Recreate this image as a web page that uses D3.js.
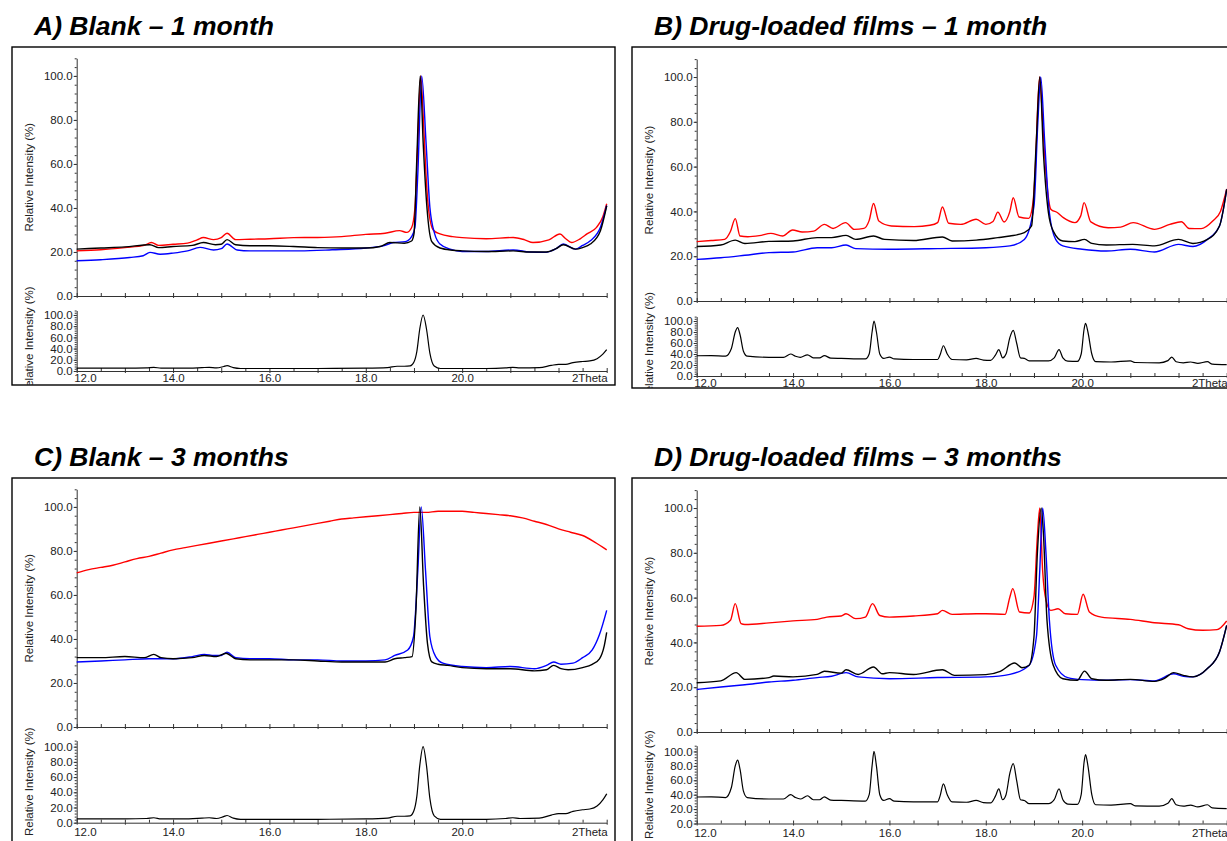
<!DOCTYPE html>
<html><head><meta charset="utf-8">
<script src="https://cdn.jsdelivr.net/npm/d3@7/dist/d3.min.js"></script>
<style>body{margin:0;background:#fff}svg{display:block}</style>
</head><body>
<svg id="chart" width="1227" height="841"></svg>
<script>
// ---------- text / ticks ----------
const panelTitles = ["A) Blank \u2013 1 month", "B) Drug-loaded films \u2013 1 month", "C) Blank \u2013 3 months", "D) Drug-loaded films \u2013 3 months"];
const xTickValues = [12, 14, 16, 18, 20];
const xTickLabels = ["12.0", "14.0", "16.0", "18.0", "20.0"];
const xAxisName = "2Theta";
const yTickValues = [0, 20, 40, 60, 80, 100];
const yTickLabels = ["0.0", "20.0", "40.0", "60.0", "80.0", "100.0"];
const yAxisName = "Relative Intensity (%)";
const seriesColors = { red: "#ff0000", blue: "#0000ff", black: "#000000" };

// ---------- data: [2theta, relative intensity %] ----------
const A_red = [[12.0,20.5],[12.5,21],[13.0,22],[13.4,23],[13.55,24.3],[13.7,23],[14.0,23.5],[14.3,24],[14.5,25.5],[14.63,26.6],[14.84,25.6],[15.0,26.5],[15.12,28.5],[15.3,25.6],[15.6,25.8],[16.0,26],[16.5,26.5],[17.0,26.6],[17.5,27],[18.0,28],[18.4,28.5],[18.7,29.7],[18.85,28.9],[18.95,31],[19.02,40],[19.08,70],[19.14,100],[19.2,78],[19.25,55],[19.3,40],[19.4,30],[19.54,28.2],[19.8,27],[20.0,26.5],[20.5,26],[21.06,26.6],[21.3,25.5],[21.47,24.3],[21.8,25.5],[22.03,28.2],[22.15,26],[22.27,24.3],[22.45,26],[22.59,28.2],[22.79,31.2],[22.92,36],[23.0,41.9]];
const A_blue = [[12.0,16],[12.5,16.5],[13.1,17.5],[13.38,18.3],[13.52,19.8],[13.73,19],[14.0,19.5],[14.3,20.5],[14.56,22.1],[14.84,20.9],[15.0,21.5],[15.12,23.6],[15.33,20.9],[15.6,20.5],[16.0,20.5],[16.63,20.5],[17.3,21],[18.0,21.8],[18.4,23],[18.57,24.3],[18.82,24.7],[18.95,27],[19.02,31.2],[19.08,55.7],[19.16,100],[19.25,70],[19.33,40.3],[19.43,28.2],[19.54,23.6],[19.75,21.3],[20.0,20.2],[20.5,20.2],[21.06,20.9],[21.4,20],[21.72,19.8],[21.95,21.5],[22.1,23.6],[22.35,21.3],[22.5,23],[22.66,25.1],[22.87,31.2],[23.0,41.1]];
const A_black = [[12.0,21.3],[12.5,21.8],[13.0,22.3],[13.52,23.3],[13.7,22],[14.0,22.5],[14.4,23],[14.63,24.3],[14.88,23.3],[15.0,23.5],[15.12,25.6],[15.3,23.3],[15.6,22.8],[16.0,22.8],[16.5,22.5],[17.0,22],[17.5,21.8],[18.0,21.8],[18.3,22.5],[18.5,24.3],[18.8,24],[18.95,25],[19.0,28.2],[19.06,63],[19.13,100],[19.19,70],[19.27,40],[19.37,24.7],[19.54,21.8],[19.8,20.8],[20.0,20.5],[20.5,20.2],[21.06,20.5],[21.4,20],[21.75,20],[21.95,21.5],[22.1,23.3],[22.35,21.3],[22.5,22],[22.66,23.6],[22.87,29.7],[23.0,41]];

const B_red = [[12.0,26.5],[12.3,27],[12.58,27.5],[12.7,31],[12.8,36.8],[12.9,29],[13.06,28.7],[13.3,29.2],[13.54,30.2],[13.78,29],[13.99,31.7],[14.19,30.8],[14.43,31.2],[14.65,34.2],[14.83,32.4],[15.09,35],[15.27,32],[15.47,32.4],[15.58,36],[15.67,43.5],[15.78,35.7],[16.04,33.5],[16.52,33.2],[16.84,33.8],[17.0,35],[17.1,42],[17.23,34.7],[17.48,34.2],[17.8,36.5],[18.0,34.2],[18.15,35.5],[18.25,39.7],[18.38,35.3],[18.5,40],[18.57,46.1],[18.69,37.5],[18.89,36.9],[18.97,42.4],[19.03,60],[19.08,88],[19.12,100],[19.18,80],[19.25,57],[19.35,41],[19.49,39.4],[19.61,37.2],[19.85,35],[19.97,38],[20.04,43.9],[20.18,35.3],[20.54,32.7],[20.8,33],[21.06,35],[21.5,32],[21.82,34.2],[22.06,35.4],[22.22,32.4],[22.47,32.3],[22.71,35.7],[22.87,40],[23.0,50]];
const B_blue = [[12.0,18.6],[12.5,19.3],[13.0,20.4],[13.5,21.6],[14.0,21.9],[14.5,23.8],[14.8,23.8],[15.1,25],[15.3,23.4],[16.0,23.1],[17.0,23.4],[18.0,23.8],[18.5,24.6],[18.8,27.5],[19.0,42.4],[19.08,79.6],[19.14,100],[19.22,72],[19.32,39.4],[19.45,27.5],[19.6,24.6],[20.0,23.1],[20.5,22.3],[21.0,23.1],[21.5,21.9],[22.0,25.3],[22.3,24.3],[22.6,27.5],[22.85,33.5],[23.0,49.9]];
const B_black = [[12.0,24.3],[12.5,25],[12.8,27.2],[13.0,25.7],[13.5,26.6],[14.0,26.8],[14.5,28.3],[14.8,28.3],[15.1,29.3],[15.3,27.5],[15.67,29],[15.9,27.5],[16.5,27],[17.1,28.6],[17.3,26.8],[17.8,27.2],[18.25,28.3],[18.5,29],[18.8,30.5],[18.95,33.5],[19.05,72],[19.12,100],[19.2,64.7],[19.3,39.4],[19.4,31.2],[19.6,26.8],[19.85,26.5],[20.05,27.5],[20.2,25.7],[20.5,25],[21.05,25.3],[21.5,24.6],[22.0,27.5],[22.3,25.7],[22.6,27.5],[22.85,33.5],[23.0,49.9]];

const C_red = [[12.0,70],[12.25,71.5],[12.5,72.5],[12.75,73.5],[13.0,75],[13.25,76.5],[13.5,77.5],[13.75,79],[14.0,80.5],[14.25,81.5],[14.5,82.5],[14.75,83.5],[15.0,84.5],[15.25,85.5],[15.5,86.5],[15.75,87.5],[16.0,88.5],[16.25,89.5],[16.5,90.5],[16.75,91.5],[17.0,92.5],[17.25,93.5],[17.5,94.5],[17.75,95],[18.0,95.5],[18.25,96],[18.5,96.5],[18.75,97],[19.0,97.5],[19.25,97.5],[19.5,98],[19.75,98],[20.0,98],[20.25,97.5],[20.5,97],[20.75,96.5],[21.0,96],[21.25,95],[21.5,93.5],[21.75,92],[22.0,90],[22.25,88.5],[22.5,87],[22.75,84],[23.0,80.5]];
const C_blue = [[12.0,29.5],[12.5,30],[13.0,30.5],[13.5,31],[14.0,31],[14.4,32],[14.65,33],[14.85,32.5],[15.0,32.5],[15.12,34],[15.3,31.5],[15.6,31],[16.0,31],[16.5,30.5],[17.0,30.5],[17.5,30],[18.0,30],[18.4,30.5],[18.6,32.5],[18.87,35],[18.99,41],[19.08,71],[19.15,100],[19.24,71],[19.33,41],[19.45,32],[19.6,29],[20.0,27.5],[20.5,27],[21.0,27.5],[21.5,26.5],[21.75,28],[21.9,29.5],[22.05,28.5],[22.3,29],[22.5,31.5],[22.7,35],[22.85,42],[23.0,53]];
const C_black = [[12.0,31.5],[12.5,31.5],[13.0,32],[13.4,31.5],[13.6,33],[13.75,31.5],[14.0,31],[14.4,31.5],[14.65,32.5],[14.9,32],[15.1,33.5],[15.3,31],[15.6,30.5],[16.0,30.5],[16.5,30.5],[17.0,30],[17.5,29.5],[18.0,29.5],[18.4,29.5],[18.6,31],[18.8,31.5],[18.96,32],[19.04,53],[19.12,100],[19.2,64],[19.28,38],[19.37,29.6],[19.5,28.5],[19.7,28],[20.0,27],[20.5,26.5],[21.0,26.5],[21.5,25.5],[21.75,26],[21.9,28],[22.05,26.5],[22.2,26],[22.5,27],[22.7,28.5],[22.85,31],[22.95,37],[23.0,43]];

const D_red = [[12.0,47.2],[12.5,47.6],[12.7,49.9],[12.8,57.3],[12.92,48.4],[13.0,48],[13.5,48.7],[14.0,49.6],[14.5,50.3],[14.7,51.3],[15.0,51.8],[15.1,52.8],[15.3,50.6],[15.5,51.3],[15.65,57.3],[15.8,52],[16.0,51.3],[16.5,51.8],[17.0,52.8],[17.1,54.3],[17.3,52.5],[17.8,52.8],[18.0,52.8],[18.4,52.5],[18.5,60.3],[18.56,64],[18.7,53.6],[18.9,53.1],[19.0,60.3],[19.07,87],[19.12,100],[19.18,72],[19.25,58.8],[19.35,54.3],[19.5,55],[19.65,52.8],[19.9,52.5],[20.02,61.5],[20.15,53.6],[20.4,51.3],[21.0,50.3],[21.5,48.8],[22.0,47.9],[22.2,46.1],[22.5,45.4],[22.8,45.7],[23.0,49.6]];
const D_blue = [[12.0,19],[12.5,20.1],[13.0,21.1],[13.5,22.3],[14.0,23.1],[14.5,24.3],[14.8,24.9],[15.1,26.5],[15.35,24.6],[16.0,23.8],[17.0,24.3],[18.0,24.6],[18.5,25.7],[18.9,29.8],[19.05,42.4],[19.12,72],[19.18,100],[19.25,79.6],[19.32,49.9],[19.45,29.8],[19.7,24.3],[20.0,23.4],[20.5,23.1],[21.0,23.4],[21.5,22.8],[21.9,26],[22.1,24.9],[22.3,24.6],[22.6,28.3],[22.85,35.7],[23.0,47.6]];
const D_black = [[12.0,22],[12.5,22.8],[12.82,26.5],[13.0,23.5],[13.5,24.3],[13.6,25],[14.0,24.6],[14.5,25.7],[14.65,27.1],[15.0,26.3],[15.1,27.8],[15.35,25.7],[15.67,29],[15.85,26],[16.0,26.5],[16.5,25.7],[17.1,27.8],[17.35,25.3],[18.0,25.6],[18.3,27.1],[18.6,30.8],[18.75,28.7],[18.9,29.8],[19.0,42.4],[19.07,79.6],[19.15,100],[19.2,87],[19.27,49.9],[19.4,29.8],[19.6,23.8],[19.9,23.1],[20.05,27.2],[20.2,23.8],[20.5,23.1],[21.0,23.5],[21.5,22.6],[21.7,23.8],[21.9,26.5],[22.1,25.3],[22.3,24.6],[22.6,28.3],[22.85,35.7],[23.0,47.6]];

// reference patterns (lower plots)
const blankRef = [[12.0,5],[12.5,5],[13.0,5],[13.45,5.5],[13.6,6.5],[13.75,5],[14.2,5],[14.6,6],[14.75,6.5],[14.9,5.5],[15.05,8],[15.12,9.5],[15.25,6],[15.4,4.5],[16.0,4.5],[17.0,4.5],[18.0,5],[18.45,6],[18.65,8.5],[18.8,8.5],[18.92,9],[19.0,16],[19.06,35],[19.12,75],[19.19,100],[19.26,75],[19.33,32],[19.42,9],[19.55,4.5],[20.0,4.5],[20.5,4.5],[20.9,5.5],[21.05,6.5],[21.2,5.5],[21.6,6],[21.85,10],[22.0,12],[22.15,12],[22.3,15],[22.5,17],[22.65,18],[22.8,22],[22.92,30],[23.0,38]];
const drugRef = [[12.0,36.8],[12.3,37],[12.6,36],[12.72,50],[12.8,80],[12.85,88],[12.9,75],[12.97,45],[13.05,36],[13.5,34],[13.8,34],[13.95,40],[14.05,36],[14.15,34],[14.3,38.5],[14.42,33],[14.55,33],[14.65,37],[14.78,32.5],[15.0,32],[15.5,31],[15.58,40],[15.64,80],[15.68,100],[15.73,80],[15.8,40],[15.88,32],[16.0,34.5],[16.1,31],[16.5,30],[17.0,30],[17.05,38],[17.12,55],[17.2,40],[17.3,30],[17.6,29.5],[17.8,32],[17.95,29],[18.1,28.5],[18.2,38],[18.27,48],[18.35,33],[18.42,40],[18.5,70],[18.57,83],[18.64,60],[18.72,33],[18.8,32],[18.9,27.5],[19.3,27.5],[19.42,33],[19.52,48],[19.6,33],[19.7,27],[19.9,26.5],[19.98,40],[20.04,85],[20.07,95.6],[20.12,80],[20.2,40],[20.28,26],[20.6,25.5],[21.0,27.5],[21.1,24.5],[21.6,24],[21.78,28],[21.86,34.5],[21.95,26],[22.1,24],[22.25,25.5],[22.4,23],[22.6,26],[22.7,21.6],[23.0,20.7]];

// ---------- layout ----------
const panels = [
  { title: panelTitles[0], L: 12,  T: 47,  H: 338, up: [249, 11.3], lo: [324, 263.5], pad: 3, series: [["red", A_red], ["blue", A_blue], ["black", A_black]], ref: blankRef },
  { title: panelTitles[1], L: 632, T: 47,  H: 341, up: [254, 12.1], lo: [329, 269.6], pad: 3, series: [["red", B_red], ["blue", B_blue], ["black", B_black]], ref: drugRef },
  { title: panelTitles[2], L: 12,  T: 478, H: 366, up: [249, 11.3], lo: [344.7, 262.6], pad: 5, series: [["red", C_red], ["blue", C_blue], ["black", C_black]], ref: blankRef },
  { title: panelTitles[3], L: 632, T: 478, H: 366, up: [254, 12.1], lo: [345.5, 267.7], pad: 5, series: [["red", D_red], ["blue", D_blue], ["black", D_black]], ref: drugRef }
];

const svg = d3.select("#chart");
const FONT = "'Liberation Sans', Arial, Helvetica, sans-serif";
const AX = "#333";

panels.forEach((p, pi) => {
  const g = svg.append("g");
  const W = 603, H = p.H;
  const clipId = "clip" + pi;
  svg.append("clipPath").attr("id", clipId).append("rect")
    .attr("x", p.L).attr("y", p.T).attr("width", W).attr("height", H);

  // title
  svg.append("text").attr("x", p.L + 22).attr("y", p.T - 12)
    .attr("font-family", FONT).attr("font-size", 26.5).attr("font-weight", "bold")
    .attr("font-style", "italic").attr("fill", "#000").text(p.title);

  // frame
  g.append("rect").attr("x", p.L).attr("y", p.T).attr("width", W).attr("height", H)
    .attr("fill", "none").attr("stroke", "#000").attr("stroke-width", 1.4);

  const inner = g.append("g").attr("clip-path", `url(#${clipId})`);

  const x = d3.scaleLinear().domain([12, 23]).range([p.L + 64.7, p.L + 594.7]);
  const yU = d3.scaleLinear().domain([0, 108]).range([p.T + p.up[0], p.T + p.up[1]]);
  const yL = d3.scaleLinear().domain([0, 108]).range([p.T + p.lo[0], p.T + p.lo[1]]);

  const minorX = d3.range(12, 23.001, 0.5);
  const intX = d3.range(12, 23.001, 1);
  const minorY = d3.range(0, 108.001, 4);

  function drawAxes(y, withXLabels) {
    inner.append("g").attr("transform", `translate(${x(12)},0)`)
      .call(d3.axisLeft(y).tickValues(minorY).tickSize(2).tickSizeOuter(0).tickFormat(""))
      .call(s => { s.select(".domain").attr("stroke", AX); s.selectAll("line").attr("stroke", AX); });
    inner.append("g").attr("transform", `translate(${x(12)},0)`)
      .call(d3.axisLeft(y).tickValues(yTickValues).tickSize(3).tickSizeOuter(0).tickPadding(1)
        .tickFormat((d, i) => yTickLabels[i]))
      .call(s => {
        s.select(".domain").remove();
        s.selectAll("line").attr("stroke", AX);
        s.selectAll("text").attr("font-family", FONT).attr("font-size", 11.5).attr("fill", "#222");
      });
    inner.append("g").attr("transform", `translate(0,${y(0)})`)
      .call(d3.axisTop(x).tickValues(minorX).tickSize(3).tickSizeOuter(0).tickFormat(""))
      .call(s => { s.select(".domain").attr("stroke", AX); s.selectAll("line").attr("stroke", AX); });
    inner.append("g").attr("transform", `translate(0,${y(0)})`)
      .call(d3.axisBottom(x).tickValues(intX).tickSize(2).tickSizeOuter(0).tickFormat(""))
      .call(s => { s.select(".domain").remove(); s.selectAll("line").attr("stroke", AX); });
    if (withXLabels) {
      inner.append("g").attr("transform", `translate(0,${y(0)})`)
        .call(d3.axisBottom(x).tickValues(xTickValues).tickSize(0).tickPadding(p.pad)
          .tickFormat((d, i) => xTickLabels[i]))
        .call(s => {
          s.select(".domain").remove();
          s.selectAll("text").attr("font-family", FONT).attr("font-size", 11.5).attr("fill", "#222");
          // first label starts at the axis origin
          s.selectAll("text").filter(d => d === 12).attr("text-anchor", "start").attr("x", -3);
        });
      inner.append("text").attr("x", x(23) + 1).attr("y", y(0) + p.pad).attr("dy", "0.71em")
        .attr("text-anchor", "end").attr("font-family", FONT).attr("font-size", 11.5)
        .attr("fill", "#222").text(xAxisName);
    }
    const cy = (y(0) + y(108)) / 2;
    inner.append("text").attr("transform", `translate(${p.L + 17},${cy}) rotate(-90)`)
      .attr("text-anchor", "middle").attr("dy", "0.35em")
      .attr("font-family", FONT).attr("font-size", 11.5).attr("fill", "#222").text(yAxisName);
  }

  drawAxes(yU, false);
  drawAxes(yL, true);

  const lineU = d3.line().x(d => x(d[0])).y(d => yU(d[1])).curve(d3.curveMonotoneX);
  const lineL = d3.line().x(d => x(d[0])).y(d => yL(d[1])).curve(d3.curveMonotoneX);

  p.series.forEach(([c, data]) => {
    inner.append("path").datum(data).attr("d", lineU)
      .attr("fill", "none").attr("stroke", seriesColors[c]).attr("stroke-width", 1.4)
      .attr("stroke-linejoin", "round");
  });
  inner.append("path").datum(p.ref).attr("d", lineL)
    .attr("fill", "none").attr("stroke", "#000").attr("stroke-width", 1.2);
});
</script>
</body></html>
